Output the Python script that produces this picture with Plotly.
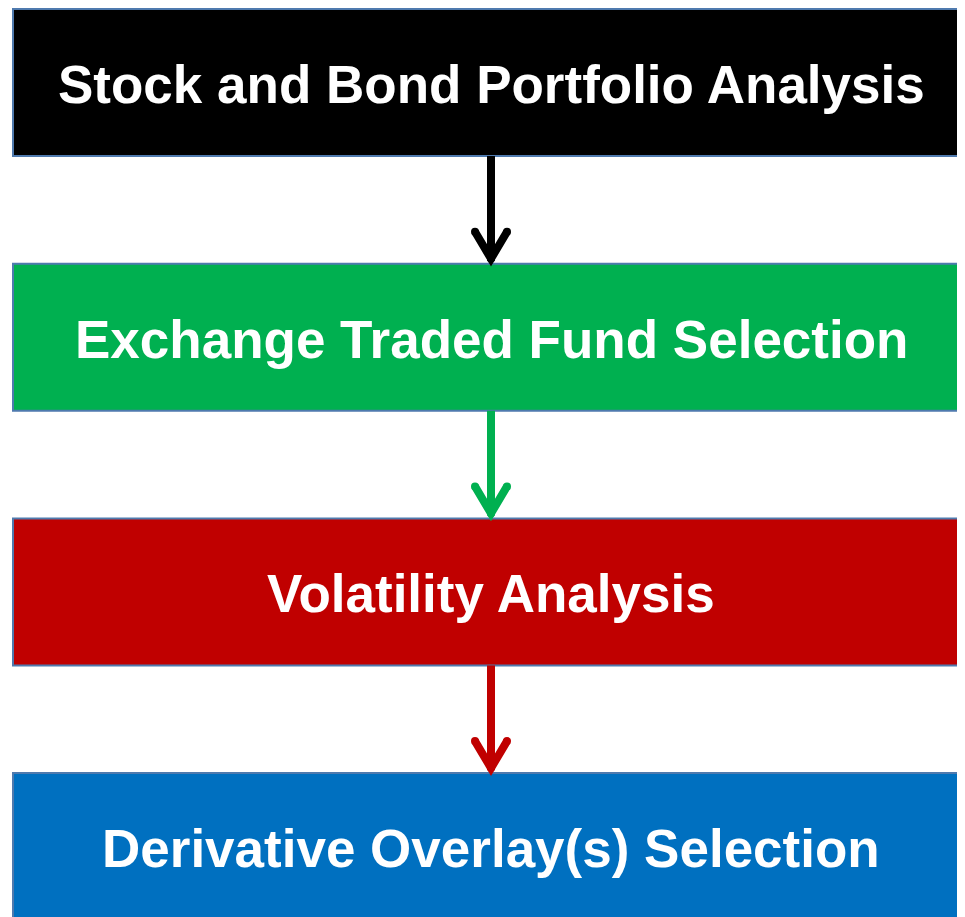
import plotly.graph_objects as go

# flowchart steps, top to bottom
steps = [
    "Stock and Bond Portfolio Analysis",
    "Exchange Traded Fund Selection",
    "Volatility Analysis",
    "Derivative Overlay(s) Selection",
]
box_colors = ["#000000", "#00B050", "#C00000", "#0070C0"]
arrow_colors = ["#000000", "#00B050", "#C00000"]

W, H = 965, 917
PAD = 8                   # page body margin in the html
x0, x1 = 13, 985          # box left / right (right runs off the page)
top0, pitch, bh = 9, 254.7, 147
cx = 491

fig = go.Figure()

for i, (label, col) in enumerate(zip(steps, box_colors)):
    t = top0 + i * pitch
    fig.add_shape(type="rect", x0=x0, x1=x1, y0=t, y1=t + bh,
                  fillcolor=col, line=dict(color="#4F7AAE", width=2), layer="below")
    fig.add_annotation(x=cx, y=t + bh / 2 + 2, text=f"<b>{label}</b>", showarrow=False,
                       font=dict(family="Liberation Sans, Arial", size=53, color="white"),
                       xanchor="center", yanchor="middle")

for i, col in enumerate(arrow_colors):
    b = top0 + i * pitch + bh
    nt = top0 + (i + 1) * pitch
    # shaft
    fig.add_trace(go.Scatter(x=[cx, cx], y=[b, nt - 3], mode="lines",
                             line=dict(color=col, width=8), hoverinfo="skip", showlegend=False))
    # chevron head
    fig.add_trace(go.Scatter(x=[cx - 16, cx, cx + 16], y=[nt - 32, nt - 5, nt - 32], mode="lines+markers",
                             line=dict(color=col, width=8),
                             marker=dict(color=col, size=8, line=dict(width=0)),
                             hoverinfo="skip", showlegend=False))

fig.update_layout(
    width=W, height=H - PAD,
    margin=dict(l=0, r=0, t=0, b=0),
    plot_bgcolor="white", paper_bgcolor="white",
    xaxis=dict(range=[PAD, W + PAD], visible=False, fixedrange=True),
    yaxis=dict(range=[H, PAD], visible=False, fixedrange=True),
)

fig.write_html("out.html")
